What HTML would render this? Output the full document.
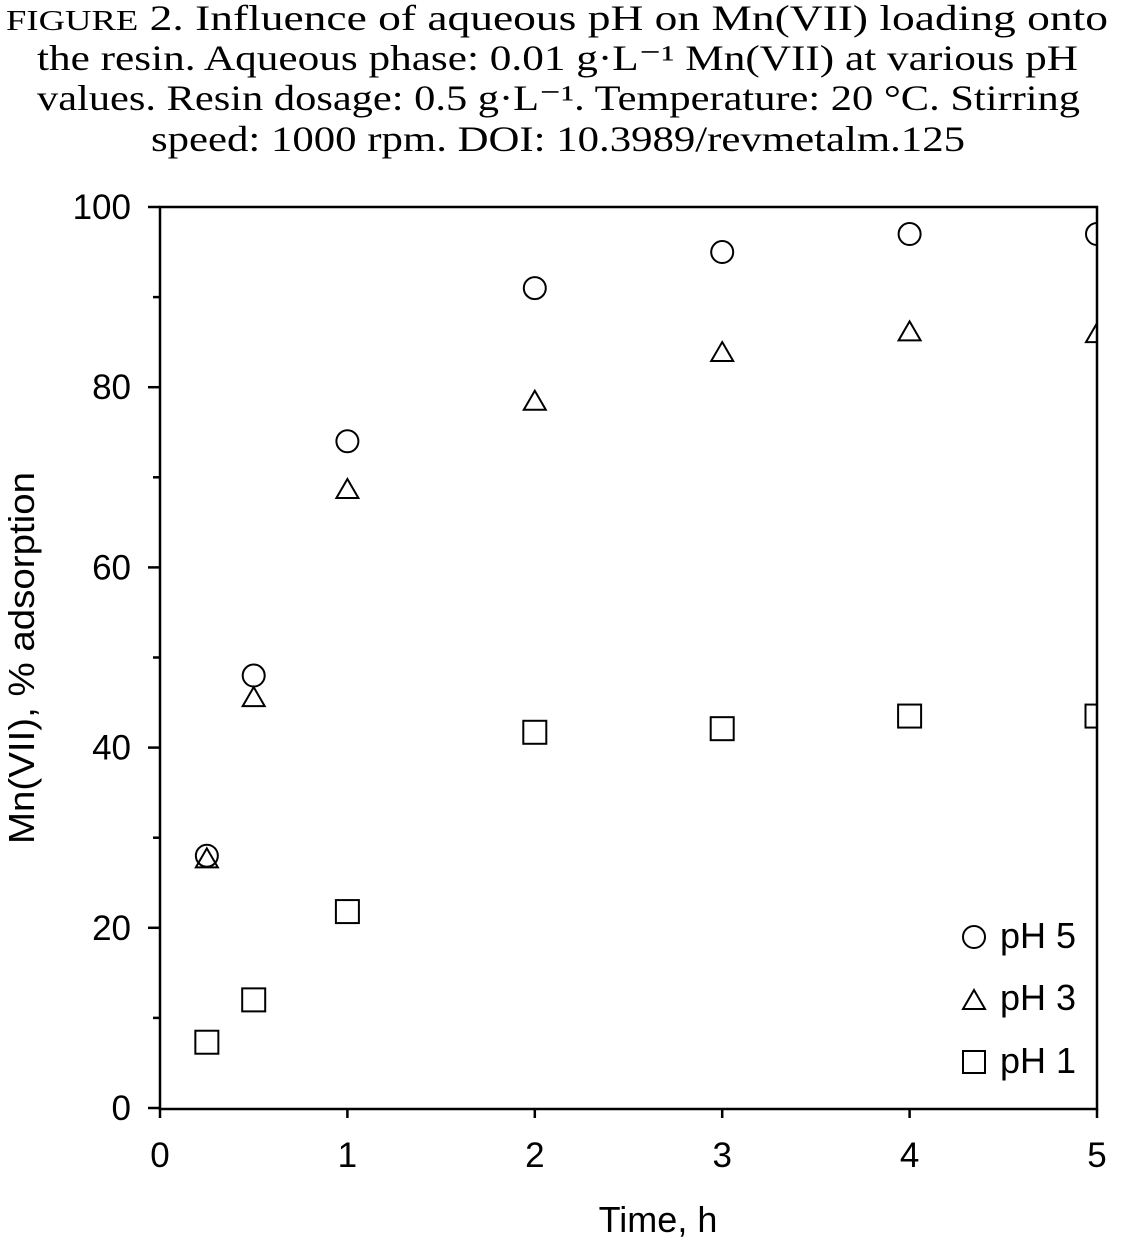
<!DOCTYPE html>
<html><head><meta charset="utf-8"><style>
body{margin:0;background:#fff;}
svg{display:block;}
.cap{font-family:"Liberation Serif",serif;font-size:36px;fill:#000;}
.lab{font-family:"Liberation Sans",sans-serif;font-size:35px;fill:#000;}
.big{font-family:"Liberation Sans",sans-serif;font-size:36px;fill:#000;}
</style></head><body>
<svg id="chart" width="1143" height="1242" viewBox="0 0 1143 1242" xmlns="http://www.w3.org/2000/svg">
<g>
<text class="cap" x="6" y="30" textLength="1102" lengthAdjust="spacingAndGlyphs"><tspan font-size="29">FIGURE</tspan> 2.    Influence of aqueous pH on Mn(VII) loading onto</text>
<text class="cap" x="37" y="70" textLength="1041" lengthAdjust="spacingAndGlyphs">the resin. Aqueous phase: 0.01 g·L⁻¹ Mn(VII) at various pH</text>
<text class="cap" x="37" y="110" textLength="1043" lengthAdjust="spacingAndGlyphs">values. Resin dosage: 0.5 g·L⁻¹. Temperature: 20 °C. Stirring</text>
<text class="cap" x="151" y="151" textLength="814" lengthAdjust="spacingAndGlyphs">speed: 1000 rpm. DOI: 10.3989/revmetalm.125</text>
</g>
<defs><clipPath id="pc"><rect x="160" y="207" width="937" height="902"/></clipPath></defs>
<rect x="160" y="207" width="937" height="902" fill="none" stroke="#000" stroke-width="2.5"/>
<g id="axes"></g>
<g id="marks" clip-path="url(#pc)"></g>
<text class="big" x="658" y="1232" text-anchor="middle">Time, h</text>
<text class="big" transform="translate(34,658) rotate(-90)" text-anchor="middle" textLength="372" lengthAdjust="spacingAndGlyphs">Mn(VII), % adsorption</text>
<g>
<g><circle cx="974" cy="937" r="11" fill="none" stroke="#000" stroke-width="2"/><text class="big" x="1000" y="948">pH 5</text></g>
<g><polygon points="974,990 985,1009 963,1009" fill="none" stroke="#000" stroke-width="2"/><text class="big" x="1000" y="1010">pH 3</text></g>
<g><rect x="963" y="1051" width="22" height="22" fill="none" stroke="#000" stroke-width="2"/><text class="big" x="1000" y="1073">pH 1</text></g>
</g>
</svg>
<script>
const times=[0.25,0.5,1,2,3,4,5];
const ph5=[28,48,74,91,95,97,97];
const ph3=[27.7,45.6,68.7,78.5,83.9,86.2,86];
const ph1=[7.3,12,21.8,41.7,42.1,43.5,43.5];
const xTicks=[0,1,2,3,4,5];
const yTicks=[0,20,40,60,80,100];
const yMinor=[10,30,50,70,90];
const NS="http://www.w3.org/2000/svg";
const X=v=>160+v*(937/5), Y=v=>1108-v*9.01;
const ax=document.getElementById('axes'), mk=document.getElementById('marks');
function el(t,a,p){const e=document.createElementNS(NS,t);for(const k in a)e.setAttribute(k,a[k]);p.appendChild(e);return e;}
xTicks.forEach(v=>{
 const l=el('line',{x1:X(v),x2:X(v),y1:1109,y2:1118,stroke:'#000','stroke-width':2.5},ax);
 
 
 const t=el('text',{x:X(v),y:1167,'text-anchor':'middle',class:'lab'},ax);t.textContent=v;
 
 
});
yTicks.forEach(v=>{
 const l=el('line',{x1:148,x2:160,y1:Y(v),y2:Y(v),stroke:'#000','stroke-width':2.5},ax);
 
 
 const t=el('text',{x:131,y:Y(v)+12,'text-anchor':'end',class:'lab'},ax);t.textContent=v;
 
 
});
yMinor.forEach(v=>{
 const l=el('line',{x1:153,x2:160,y1:Y(v),y2:Y(v),stroke:'#000','stroke-width':2.5},ax);
 
 
});
times.forEach((t,i)=>{
 let x=X(t),y;
 y=Y(ph5[i]);
 const c=el('circle',{cx:x,cy:y,r:11,fill:'none',stroke:'#000','stroke-width':2},mk);
 
 
 y=Y(ph3[i]);
 const p=el('polygon',{points:`${x},${y-10} ${x+11},${y+9} ${x-11},${y+9}`,fill:'none',stroke:'#000','stroke-width':2},mk);
 
 
 y=Y(ph1[i]);
 const r=el('rect',{x:x-11.5,y:y-11.5,width:23,height:23,fill:'none',stroke:'#000','stroke-width':2},mk);
 
 
});
</script>
</body></html>
